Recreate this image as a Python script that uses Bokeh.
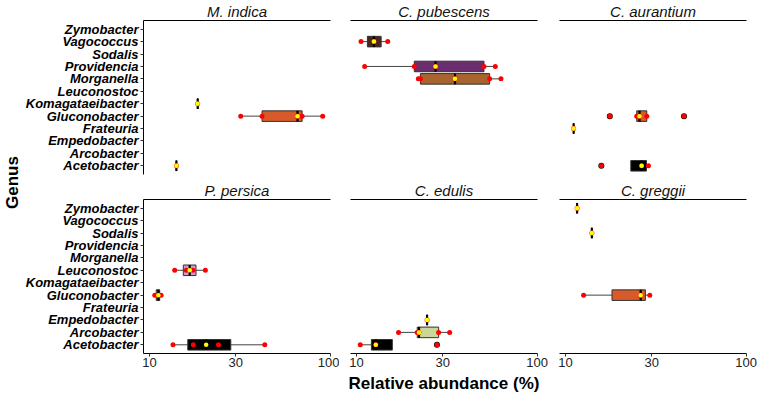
import math
from bokeh.plotting import figure
from bokeh.layouts import row, column
from bokeh.models import (ColumnDataSource, FactorRange, Range1d, LinearAxis,
                          FixedTicker, PrintfTickFormatter)
from bokeh.core.properties import value
from bokeh.embed import file_html
from bokeh.resources import INLINE

# ---------------- data ----------------
species = ["M. indica", "C. pubescens", "C. aurantium",
           "P. persica", "C. edulis", "C. greggii"]

# bottom -> top
genera = ["Acetobacter", "Arcobacter", "Empedobacter", "Frateuria",
          "Gluconobacter", "Komagataeibacter", "Leuconostoc", "Morganella",
          "Providencia", "Sodalis", "Vagococcus", "Zymobacter"]

x_ticks = [10, 30, 100]

# boxplot statistics (relative abundance, %)
box_species = ["M. indica", "M. indica", "M. indica",
               "C. pubescens", "C. pubescens", "C. pubescens",
               "C. aurantium", "C. aurantium", "C. aurantium",
               "P. persica", "P. persica", "P. persica",
               "C. edulis", "C. edulis", "C. edulis",
               "C. greggii", "C. greggii", "C. greggii"]
box_genus = ["Komagataeibacter", "Gluconobacter", "Acetobacter",
             "Vagococcus", "Providencia", "Morganella",
             "Gluconobacter", "Frateuria", "Acetobacter",
             "Leuconostoc", "Gluconobacter", "Acetobacter",
             "Empedobacter", "Arcobacter", "Acetobacter",
             "Zymobacter", "Sodalis", "Gluconobacter"]
box_low = [18.5, 32.0, 14.1, 10.6, 11.1, 22.0, 24.8, 11.1, 23.0,
           13.8, 10.7, 13.5, 24.6, 17.1, 10.5, 11.6, 14.0, 12.6]
box_q1 = [18.5, 42.0, 14.1, 11.5, 20.9, 22.6, 24.8, 11.1, 23.0,
          15.4, 10.9, 16.3, 24.6, 21.7, 12.1, 11.6, 14.0, 18.1]
box_med = [18.5, 66.0, 14.1, 12.5, 27.4, 35.1, 25.7, 11.1, 26.4,
           16.7, 11.2, 20.6, 24.6, 22.2, 12.8, 11.6, 14.0, 26.1]
box_q3 = [18.5, 70.0, 14.1, 13.7, 50.8, 54.6, 28.2, 11.1, 28.1,
          18.1, 11.4, 28.2, 24.6, 28.5, 15.8, 11.6, 14.0, 27.7]
box_high = [18.5, 91.0, 14.1, 14.9, 58.7, 63.1, 28.2, 11.1, 28.8,
            20.4, 11.6, 43.5, 24.6, 32.8, 15.8, 11.6, 14.0, 29.3]

# individual samples (red points)
pt_species = (["M. indica"] * 7 + ["C. pubescens"] * 13 + ["C. aurantium"] * 9 +
              ["P. persica"] * 10 + ["C. edulis"] * 9 + ["C. greggii"] * 5)
pt_genus = (["Komagataeibacter"] + ["Gluconobacter"] * 5 + ["Acetobacter"] +
            ["Vagococcus"] * 3 + ["Providencia"] * 5 + ["Morganella"] * 5 +
            ["Gluconobacter"] * 5 + ["Frateuria"] + ["Acetobacter"] * 3 +
            ["Leuconostoc"] * 4 + ["Gluconobacter"] * 2 + ["Acetobacter"] * 4 +
            ["Empedobacter"] + ["Arcobacter"] * 5 + ["Acetobacter"] * 3 +
            ["Zymobacter"] + ["Sodalis"] + ["Gluconobacter"] * 3)
pt_value = ([18.5, 32.0, 42.0, 66.0, 70.0, 91.0, 14.1] +
            [10.6, 12.5, 14.9, 11.1, 20.9, 27.4, 50.8, 58.7, 22.0, 22.6, 35.1, 54.6, 63.1] +
            [17.6, 24.8, 25.7, 28.2, 45.3, 11.1, 15.8, 26.4, 28.8] +
            [13.8, 16.0, 17.4, 20.4, 10.7, 11.6, 13.5, 17.5, 24.1, 43.5] +
            [24.6, 17.1, 21.7, 22.2, 28.5, 32.8, 10.5, 12.8, 27.9] +
            [11.6, 14.0, 12.6, 26.1, 29.3])

# boxplot outliers
out_species = ["C. aurantium", "C. aurantium", "C. aurantium", "C. edulis"]
out_genus = ["Gluconobacter", "Gluconobacter", "Acetobacter", "Acetobacter"]
out_value = [17.6, 45.3, 15.8, 27.9]

genus_fill = {"Gluconobacter": "#D75B2A", "Acetobacter": "#000000",
              "Vagococcus": "#4B2323", "Providencia": "#6A2D6E",
              "Morganella": "#A8632E", "Leuconostoc": "#C99CD6",
              "Arcobacter": "#CDD699", "Komagataeibacter": "#777777",
              "Frateuria": "#777777", "Empedobacter": "#777777",
              "Zymobacter": "#777777", "Sodalis": "#777777"}

# ---------------- styling ----------------
FONT = "Liberation Sans"
FW, FH = 187, 154
BOX_H = 0.85
BORDERS = [(118, 9), (11, 11), (11, 11)]   # (left, right) per column


def make_panel(sp, col, rown):
    left = col == 0
    bottom = rown == 1
    mbl, mbr = BORDERS[col]
    mbt = 17
    mbb = 43 if bottom else 5
    p = figure(frame_width=FW, frame_height=FH,
               x_axis_type="log", x_range=Range1d(9.27, 100.5),
               y_range=FactorRange(factors=genera, range_padding=0.2,
                                   range_padding_units="absolute"),
               x_axis_location="below" if bottom else None,
               y_axis_location="left" if left else None,
               toolbar_location=None, output_backend="svg", title=sp,
               min_border_left=mbl, min_border_right=mbr,
               min_border_top=mbt, min_border_bottom=mbb)
    p.outline_line_color = None
    p.xgrid.grid_line_color = None
    p.ygrid.grid_line_color = None
    p.background_fill_color = "white"
    p.border_fill_color = "white"

    p.title.text_font = FONT
    p.title.text_font_style = "italic"
    p.title.text_font_size = "15px"
    p.title.text_color = "#111111"
    p.title.align = "center"
    p.title.standoff = 1

    if left:
        ya = p.left[0]
        ya.major_label_text_font = FONT
        ya.major_label_text_font_style = "bold italic"
        ya.major_label_text_font_size = "13px"
        ya.major_label_text_color = "black"
        ya.major_tick_out = 3
        ya.major_tick_in = 0
        ya.major_tick_line_color = "#333333"
        ya.axis_line_color = "black"
        ya.major_label_standoff = 2

    if bottom:
        xa = p.below[0]
        xa.ticker = FixedTicker(ticks=x_ticks, minor_ticks=[])
        xa.formatter = PrintfTickFormatter(format="%d")
        xa.major_label_text_font = FONT
        xa.major_label_text_font_size = "13px"
        xa.major_label_text_color = "#222222"
        xa.major_tick_out = 3
        xa.major_tick_in = 0
        xa.minor_tick_out = 0
        xa.minor_tick_in = 0
        xa.major_tick_line_color = "#333333"
        xa.axis_line_color = "black"
        xa.major_label_standoff = 1
        if col == 1:
            xa.axis_label = "Relative abundance (%)"
            xa.axis_label_text_font = FONT
            xa.axis_label_text_font_style = "bold"
            xa.axis_label_text_font_size = "17px"
            xa.axis_label_text_color = "black"
            xa.axis_label_standoff = 4

    top_line = LinearAxis(ticker=FixedTicker(ticks=[]),
                          major_label_text_font_size="0px",
                          major_tick_out=0, major_tick_in=0,
                          minor_tick_out=0, minor_tick_in=0,
                          major_label_standoff=0,
                          axis_line_color="black", axis_line_width=1)
    p.add_layout(top_line, "above")

    idx = [i for i, s in enumerate(box_species) if s == sp]
    bsrc = ColumnDataSource(dict(
        genus=[box_genus[i] for i in idx],
        low=[box_low[i] for i in idx],
        q1=[box_q1[i] for i in idx],
        med=[box_med[i] for i in idx],
        q3=[box_q3[i] for i in idx],
        high=[box_high[i] for i in idx],
        color=[genus_fill[box_genus[i]] for i in idx]))
    pidx = [i for i, s in enumerate(pt_species) if s == sp]
    psrc = ColumnDataSource(dict(genus=[pt_genus[i] for i in pidx],
                                 value=[pt_value[i] for i in pidx]))
    oidx = [i for i, s in enumerate(out_species) if s == sp]
    osrc = ColumnDataSource(dict(genus=[out_genus[i] for i in oidx],
                                 value=[out_value[i] for i in oidx]))

    p.segment(x0="low", y0="genus", x1="q1", y1="genus", source=bsrc,
              line_color="#444444", line_width=1)
    p.segment(x0="q3", y0="genus", x1="high", y1="genus", source=bsrc,
              line_color="#444444", line_width=1)
    p.hbar(y="genus", left="q1", right="q3", height=BOX_H, source=bsrc,
           fill_color="color", line_color="#333333", line_width=1)
    p.rect(x="med", y="genus", width=2.2, width_units="screen",
           height=BOX_H, source=bsrc, fill_color="black", line_color=None)
    p.scatter(x="value", y="genus", source=osrc, size=6,
              fill_color="black", line_color=None)
    p.scatter(x="value", y="genus", source=psrc, size=5,
              fill_color="#FF0000", line_color=None)
    p.scatter(x="med", y="genus", source=bsrc, size=4.5,
              fill_color="#FFFF00", line_color=None)
    return p


panels = [make_panel(sp, i % 3, i // 3) for i, sp in enumerate(species)]

# "Genus" axis title, as a vertical title on a slim figure
g = figure(frame_width=1, frame_height=364, x_range=Range1d(0, 1),
           y_range=Range1d(0, 1), x_axis_location=None,
           y_axis_location=None, toolbar_location=None, output_backend="svg",
           title="Genus", title_location="left",
           min_border_left=0, min_border_right=0,
           min_border_top=0, min_border_bottom=26)
g.outline_line_color = None
g.xgrid.grid_line_color = None
g.ygrid.grid_line_color = None
g.title.text_font = FONT
g.title.text_font_style = "bold"
g.title.text_font_size = "17px"
g.title.text_color = "black"
g.title.align = "center"
g.title.standoff = 0
g.title.offset = 0

grid = column(row(*panels[:3]), row(*panels[3:]))
layout = row(g, grid)

open("out.html", "w").write(file_html(layout, INLINE))
